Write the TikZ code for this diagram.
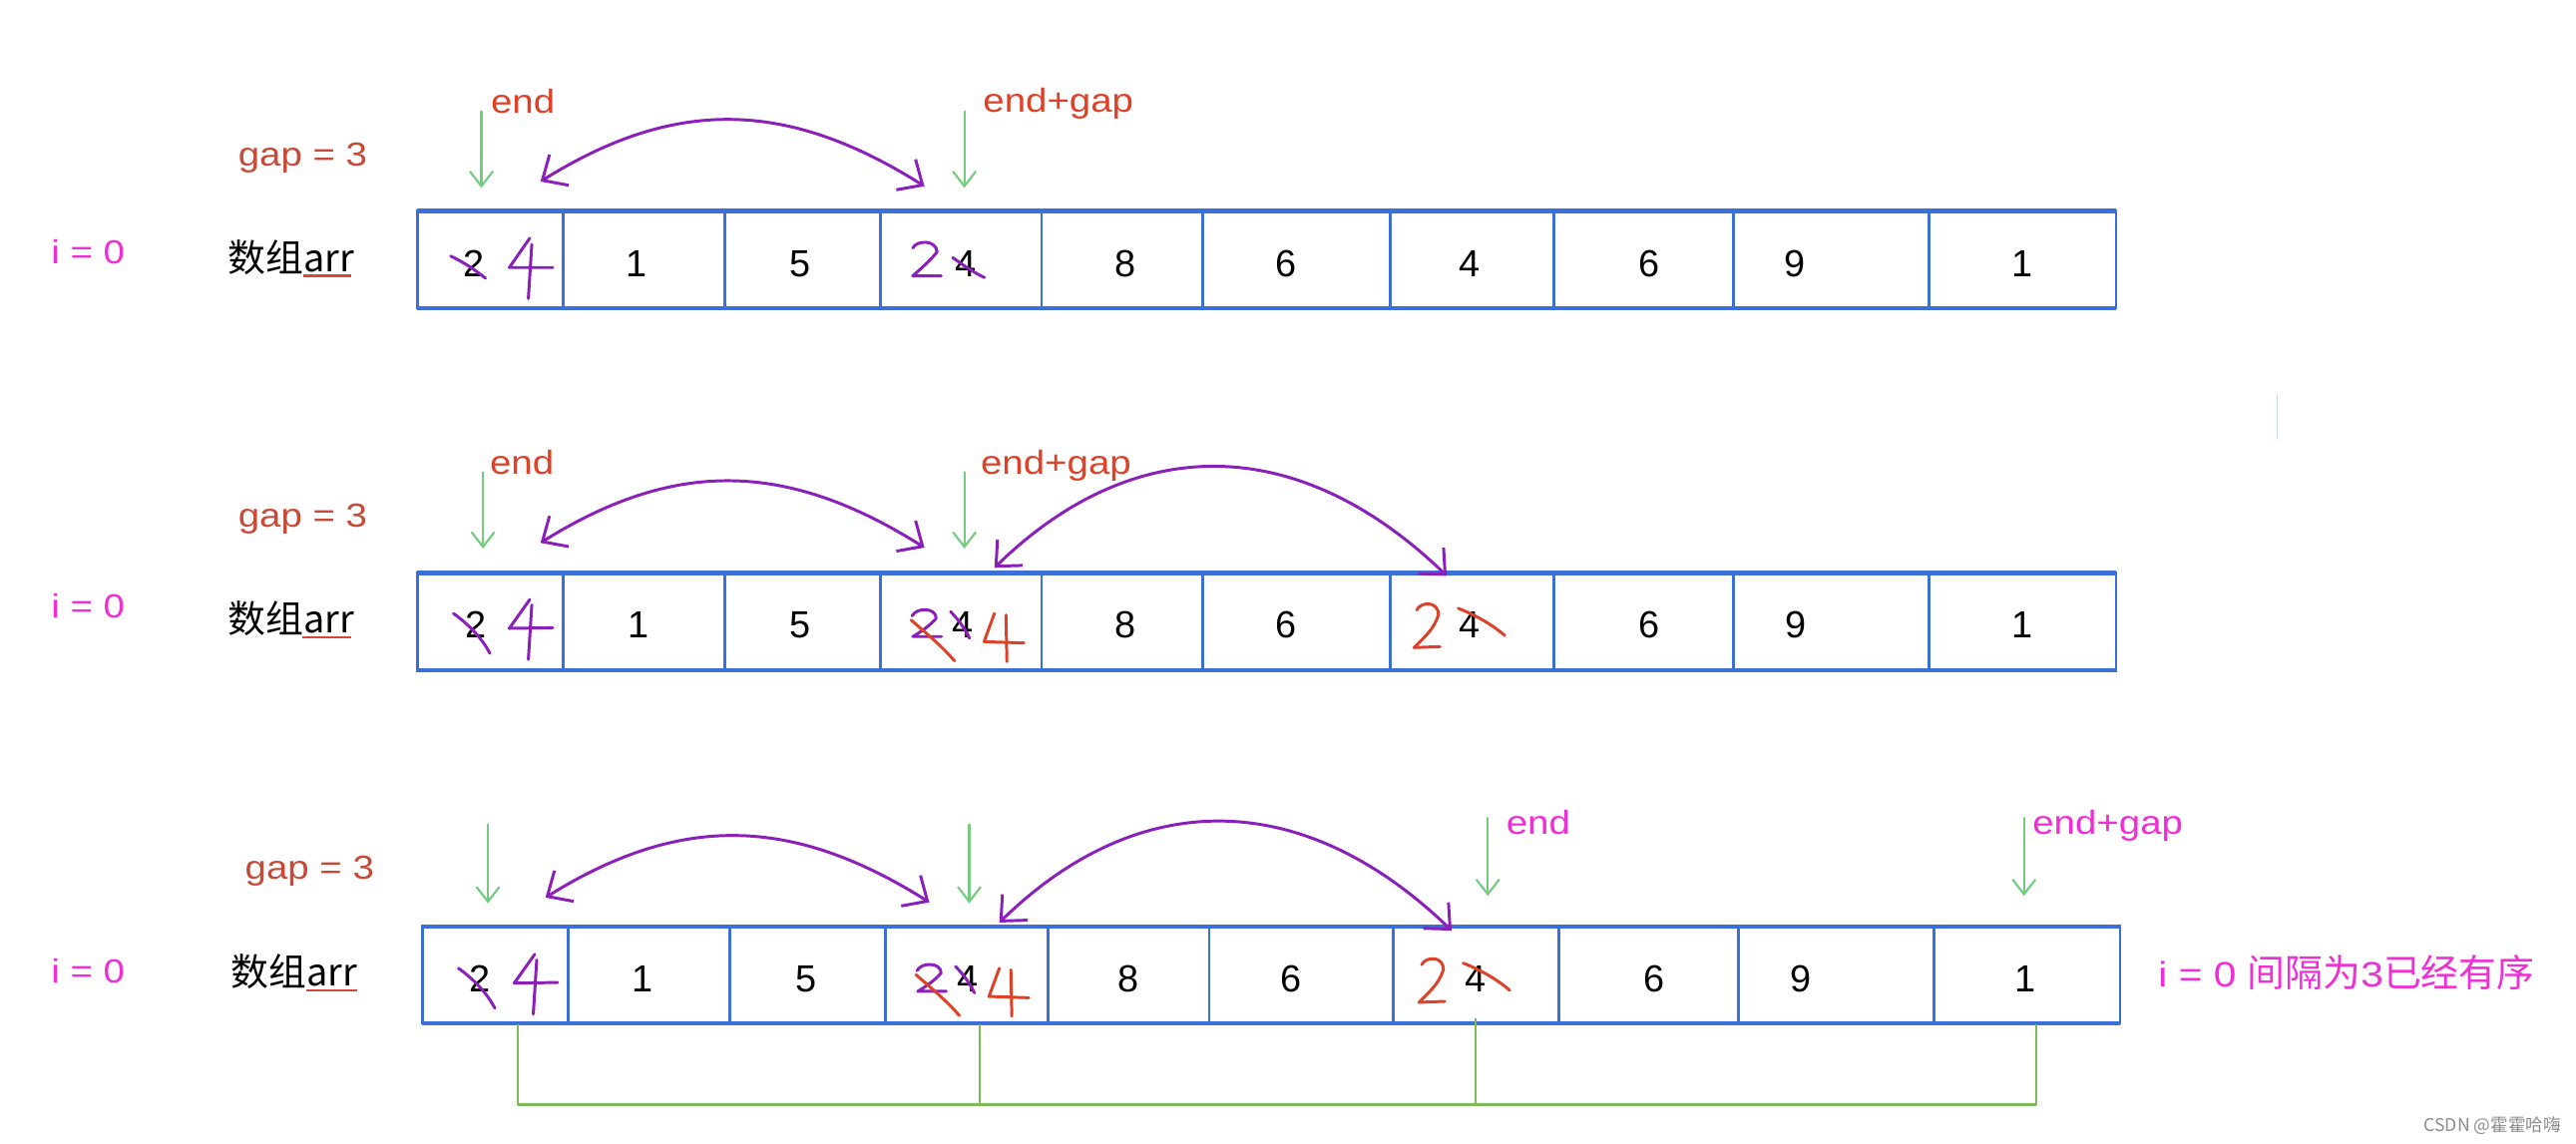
\documentclass[tikz,border=0pt]{standalone}
\usepackage{fontspec}
\setmainfont{Liberation Sans}
\newfontfamily\lblfont[FakeStretch=1.15]{Liberation Sans}
\newfontfamily\cjkfont{Noto Sans CJK SC}
\usetikzlibrary{arrows.meta}
\definecolor{arrblue}{HTML}{3C6FD8}
\definecolor{hred}{HTML}{DD4128}
\definecolor{gapred}{HTML}{C64A38}
\definecolor{ulred}{HTML}{D9453A}
\definecolor{mag}{HTML}{EE2FD4}
\definecolor{purp}{HTML}{8A1FBA}
\definecolor{lgreen}{HTML}{74CC80}
\definecolor{bgreen}{HTML}{7DBA57}
\definecolor{faintblue}{HTML}{C9D6F2}
\newcommand\hmarks{%
  % cell 0: crossed 2 and purple 4
  \draw[hand,purp] (276,373.5) .. controls (285,380) and (293,388) .. (298.2,397.8);
  \draw[hand,purp] (322.5,365) -- (310,382.6) -- (336.5,382.2);
  \draw[hand,purp] (323.7,368.4) -- (321.6,401.5);
  % cell 3: purple 2 crossed red, 4 crossed purple, red 4
  \draw[hand,purp] (555.2,375) .. controls (558,369.5) and (570,370) .. (569.8,376.5) .. controls (566,381) and (560,385) .. (555.6,387.6) -- (573,387.6);
  \draw[hand,hred] (554.6,377.5) .. controls (563,385) and (573,393) .. (581,402.4);
  \draw[hand,purp] (578.6,372.4) .. controls (583,377) and (587,382) .. (590.1,388.6);
  \draw[hand,hred] (605.3,373.5) -- (599,390.7) -- (623.2,391.5);
  \draw[hand,hred] (612.3,374.5) -- (612.9,402.8);
  % cell 6: red 2, 4 crossed red
  \draw[hand,hred] (862.3,371.4) .. controls (865,366) and (876,366) .. (875.5,374.6) .. controls (873,383) and (866,389) .. (860.7,394.3) -- (876.5,393.7);
  \draw[hand,hred] (887.6,370.4) .. controls (897,374) and (908,380) .. (916,387);
}
\begin{document}
\begin{tikzpicture}[x=1pt,y=-1pt,
  cellbox/.style={draw=arrblue, line width=1.7pt, inner sep=0pt, outer sep=0pt, anchor=north west},
  arredge/.style={draw=arrblue, line width=2.6pt},
  digit/.style={font=\fontsize{23}{25}\selectfont, inner sep=0pt},
  lbl/.style={font=\lblfont\fontsize{20.3}{23}\selectfont, anchor=base west, inner sep=0pt},
  arrlbl/.style={font=\cjkfont\fontsize{23}{26}\selectfont, anchor=base west, inner sep=0pt},
  hand/.style={line width=1.8pt, line cap=round, line join=round},
  parc/.style={draw=purp, line width=1.8pt, line cap=round, <->, >={Straight Barb[length=12pt,width=22pt]}},
  garrow/.style={draw=lgreen, line width=1.3pt, line cap=round, -{Straight Barb[length=9pt,width=14pt]}},
  uline/.style={draw=ulred, line width=1.6pt},
  gbracket/.style={draw=bgreen, line width=1.3pt},
]
\fill[white] (0,0) rectangle (1568,696);
\useasboundingbox (0,0) rectangle (1568,696);

% ================= ROW 1 =================
\foreach \a/\b [count=\i from 0] in {254/343,343/441,441/536,536/634,634/732,732/846,846/946,946/1055,1055/1174,1174/1288}
  \node[cellbox, minimum width={(\b-\a)*1pt}, minimum height=59.2pt] (ca-\i) at (\a,128.5) {};
\draw[arredge] (ca-0.north west) -- (ca-9.north east);
\draw[arredge] (ca-0.south west) -- (ca-9.south east);
\foreach \x/\v [count=\i from 0] in {288.5/2,387.7/1,487/5,588/4,684.9/8,783/6,894.8/4,1003.6/6,1092.7/9,1231.2/1}
  \node[digit] (na-\i) at (\x,160.5) {\v};

\node[lbl, text=mag] (ia) at (31,160.5) {i = 0};
\node[arrlbl] (arra) at (138.6,165.5) {数组arr};
\coordinate (ula1) at (184.4,168); \coordinate (ula2) at (213.6,168);
\draw[uline] (ula1) -- (ula2);
\node[lbl, text=gapred] (gapa) at (144.8,101.2) {gap = 3};
\node[lbl, text=hred] (enda) at (298.6,68.8) {end};
\node[lbl, text=hred] (ega) at (598.2,68.4) {end+gap};

\coordinate (ga1s) at (293,67.8); \coordinate (ga1e) at (293,114.4);
\coordinate (ga2s) at (587,67.8); \coordinate (ga2e) at (587,114.4);
\draw[garrow] (ga1s) -- (ga1e);
\draw[garrow] (ga2s) -- (ga2e);

\coordinate (pa1) at (329,110.5); \coordinate (pa2) at (562.7,113.4);
\draw[parc] (pa1) .. controls (410,60) and (478,60) .. (pa2);

\draw[hand,purp] (274.3,155.9) .. controls (283,160) and (290,165) .. (295.5,169.4);
\draw[hand,purp] (322.5,145) -- (310,162.9) -- (336.5,162.9);
\draw[hand,purp] (323.7,148.8) -- (321.6,181.8);
\draw[hand,purp] (555.6,151) .. controls (558,146) and (570,146) .. (570.4,153.4) .. controls (566,159) and (560,164) .. (555.6,168) -- (572.9,168);
\draw[hand,purp] (580,156.9) .. controls (587,162) and (593,166) .. (599.2,169);

% stray faint mark
\draw[faintblue, line width=0.9pt] (1386,240) -- (1386,268);

% ================= ROW 2 =================
\foreach \a/\b [count=\i from 0] in {254/343,343/441,441/536,536/634,634/732,732/846,846/946,946/1055,1055/1174,1174/1288}
  \node[cellbox, minimum width={(\b-\a)*1pt}, minimum height=59.5pt] (cb-\i) at (\a,348.8) {};
\draw[arredge] (cb-0.north west) -- (cb-9.north east);
\draw[arredge] (cb-0.south west) -- (cb-9.south east);
\foreach \x/\v [count=\i from 0] in {289.7/2,388.6/1,487/5,585.8/4,685/8,783/6,894.7/4,1003.6/6,1093/9,1231/1}
  \node[digit] (nb-\i) at (\x,380.5) {\v};

\node[lbl, text=mag] (ib) at (31,376.5) {i = 0};
\node[arrlbl] (arrb) at (138.5,385.5) {数组arr};
\coordinate (ulb1) at (184.3,388); \coordinate (ulb2) at (214,388);
\draw[uline] (ulb1) -- (ulb2);
\node[lbl, text=gapred] (gapb) at (144.8,320.8) {gap = 3};
\node[lbl, text=hred] (endb) at (298,288.5) {end};
\node[lbl, text=hred] (egb) at (596.8,288.5) {end+gap};

\coordinate (gb1s) at (294,287.5); \coordinate (gb1e) at (294,334);
\coordinate (gb2s) at (587,287.5); \coordinate (gb2e) at (587,334);
\draw[garrow] (gb1s) -- (gb1e);
\draw[garrow] (gb2s) -- (gb2e);

\coordinate (pb1) at (329,330.5); \coordinate (pb2) at (562.7,333.4);
\draw[parc] (pb1) .. controls (410,280) and (478,280) .. (pb2);
\coordinate (pb3) at (605.3,345.7); \coordinate (pb4) at (880.6,350.6);
\draw[parc] (pb3) .. controls (690,263) and (790,263) .. (pb4);

\hmarks

% ================= ROW 3 =================
\foreach \a/\b [count=\i from 0] in {257/346,346/444,444/539,539/638,638/736,736/848,848/949,949/1058,1058/1177,1177/1290.5}
  \node[cellbox, minimum width={(\b-\a)*1pt}, minimum height=59pt] (cc-\i) at (\a,564) {};
\draw[arredge] (cc-0.north west) -- (cc-9.north east);
\draw[arredge] (cc-0.south west) -- (cc-9.south east);
\foreach \x/\v [count=\i from 0] in {292/2,391/1,490.8/5,589/4,686.8/8,786/6,898/4,1006.8/6,1096/9,1233/1}
  \node[digit] (nc-\i) at (\x,596) {\v};

\node[lbl, text=mag] (ic) at (31,598.2) {i = 0};
\node[arrlbl] (arrc) at (140.6,600.5) {数组arr};
\coordinate (ulc1) at (186.4,603); \coordinate (ulc2) at (217.3,603);
\draw[uline] (ulc1) -- (ulc2);
\node[lbl, text=gapred] (gapc) at (149,535.4) {gap = 3};
\node[lbl, text=mag] (endc) at (916.7,507.7) {end};
\node[lbl, text=mag] (egc) at (1237,507.7) {end+gap};

\coordinate (gc1s) at (297,502); \coordinate (gc1e) at (297,550);
\coordinate (gc2s) at (590,502); \coordinate (gc2e) at (590,550);
\coordinate (gc3s) at (905.6,498); \coordinate (gc3e) at (905.6,545.5);
\coordinate (gc4s) at (1232,498); \coordinate (gc4e) at (1232,545.5);
\draw[garrow] (gc1s) -- (gc1e);
\draw[garrow] (gc2s) -- (gc2e);
\draw[garrow] (gc3s) -- (gc3e);
\draw[garrow] (gc4s) -- (gc4e);

\begin{scope}[shift={(3,216)}]
  \coordinate (pc1) at (329,330.5); \coordinate (pc2) at (562.7,333.4);
  \draw[parc] (pc1) .. controls (410,280) and (478,280) .. (pc2);
  \coordinate (pc3) at (605.3,345.7); \coordinate (pc4) at (880.6,350.6);
  \draw[parc] (pc3) .. controls (690,263) and (790,263) .. (pc4);
  \hmarks
\end{scope}

\node[anchor=base west, inner sep=0pt, text=mag] (done) at (1313.6,601)
  {{\lblfont\fontsize{21.5}{24}\selectfont i = 0\ }{\cjkfont\fontsize{23}{26}\selectfont 间隔为}{\lblfont\fontsize{21.5}{24}\selectfont 3}{\cjkfont\fontsize{23}{26}\selectfont 已经有序}};

% green bracket
\coordinate (k0) at (315.3,623.5); \coordinate (k3) at (596.4,623.5);
\coordinate (k6) at (898,620); \coordinate (k9) at (1239.6,623.5);
\coordinate (m0) at (315.3,672.6); \coordinate (m9) at (1239.6,672.6);
\draw[gbracket] (k0) -- (m0);
\draw[gbracket] (k9) -- (m9);
\draw[gbracket] (k3) -- (k3 |- m0);
\draw[gbracket] (k6) -- (k6 |- m0);
\draw[gbracket, line width=2.2pt] (m0) -- (m9);

% watermark
\node[anchor=base east, inner sep=0pt, font=\cjkfont\fontsize{10.7}{12}\selectfont, text=black!45] (wm) at (1559,689) {CSDN @霍霍哈嗨};
\end{tikzpicture}
\end{document}
